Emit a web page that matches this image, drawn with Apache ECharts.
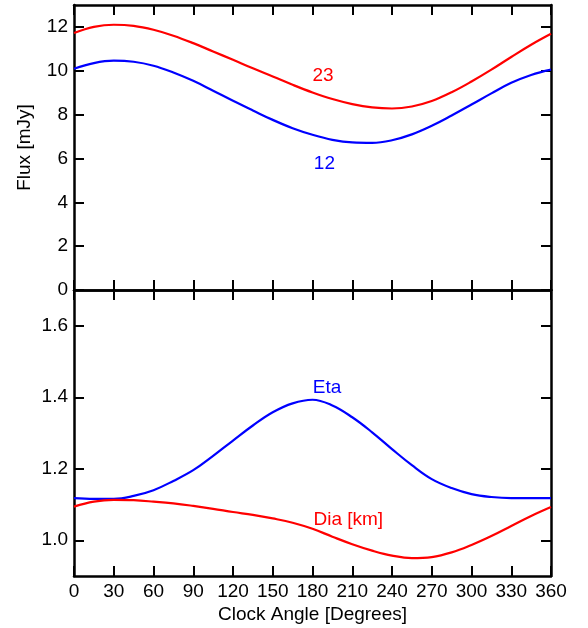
<!DOCTYPE html>
<html>
<head>
<meta charset="utf-8">
<script src="https://cdn.jsdelivr.net/npm/echarts@6/dist/echarts.min.js"></script>
<style>
  html, body { margin: 0; padding: 0; background: #fff; }
  #main { width: 588px; height: 628px; }
</style>
</head>
<body>
<div id="main"></div>
<script>
// clock angle, degrees
var angles = [0, 15, 30, 45, 60, 75, 90, 105, 120, 135, 150, 165, 180,
  195, 210, 225, 240, 255, 270, 285, 300, 315, 330, 345, 360];

// top panel: flux [mJy]
var flux23 = [11.72, 12.00, 12.10, 12.05, 11.87, 11.60, 11.26, 10.88, 10.50, 10.11, 9.74, 9.36, 9.01,
  8.71, 8.48, 8.33, 8.28, 8.37, 8.62, 9.02, 9.51, 10.05, 10.63, 11.19, 11.69];
var flux12 = [10.09, 10.35, 10.46, 10.41, 10.23, 9.92, 9.54, 9.09, 8.63, 8.19, 7.76, 7.38, 7.08,
  6.85, 6.73, 6.71, 6.83, 7.10, 7.49, 7.96, 8.46, 8.97, 9.45, 9.81, 10.05];

// bottom panel
var eta = [1.118, 1.116, 1.116, 1.124, 1.140, 1.166, 1.196, 1.236, 1.279, 1.321, 1.358, 1.383, 1.393,
  1.377, 1.344, 1.302, 1.255, 1.210, 1.171, 1.146, 1.129, 1.121, 1.118, 1.118, 1.118];
var dia = [1.094, 1.108, 1.113, 1.112, 1.108, 1.103, 1.096, 1.088, 1.079, 1.071, 1.061, 1.049, 1.032,
  1.010, 0.989, 0.971, 0.957, 0.950, 0.953, 0.966, 0.987, 1.012, 1.040, 1.068, 1.093];

// tick labels
var fluxTicks = [0, 2, 4, 6, 8, 10, 12];
var ratioTicks = [1.0, 1.2, 1.4, 1.6];

var FONT = 'Liberation Sans, Arial, sans-serif';
var RED = '#ff0000', BLUE = '#0000ff';

function pairs(ys) {
  return angles.map(function (a, i) { return [a, ys[i]]; });
}

var line = { onZero: false, lineStyle: { color: '#000', width: 2.5 } };
var tickIn = { show: true, inside: true, length: 10, lineStyle: { color: '#000', width: 2 } };

function xAx(grid, pos, labels) {
  return {
    type: 'value', gridIndex: grid, position: pos, min: 0, max: 360, interval: 30,
    axisLine: line, axisTick: tickIn, splitLine: { show: false },
    axisLabel: { show: labels, color: '#000', fontSize: 19, fontFamily: FONT, margin: 6 },
    name: labels ? 'Clock Angle [Degrees]' : '', nameLocation: 'middle', nameGap: 29,
    nameTextStyle: { color: '#000', fontSize: 19, fontFamily: FONT }
  };
}

function yAx(grid, pos, min, max, ticks, labels, name, fmt) {
  return {
    type: 'value', gridIndex: grid, position: pos, min: min, max: max,
    axisLine: line, axisTick: Object.assign({ customValues: ticks }, tickIn), splitLine: { show: false },
    axisLabel: { show: labels, customValues: ticks, color: '#000', fontSize: 19, fontFamily: FONT, margin: 6, formatter: fmt },
    name: name, nameLocation: 'middle', nameGap: 40,
    nameTextStyle: { color: '#000', fontSize: 19, fontFamily: FONT }
  };
}

function tag(text, color, x, y) {
  return {
    symbol: 'circle', symbolSize: 0, silent: true,
    data: [{ coord: [x, y] }],
    label: { show: true, formatter: text, color: color, fontSize: 19, fontFamily: FONT, position: 'inside' }
  };
}

function curve(ys, color, xi, yi, mark) {
  return {
    type: 'line', xAxisIndex: xi, yAxisIndex: yi, data: pairs(ys),
    smooth: 0.4, showSymbol: false, animation: false,
    lineStyle: { color: color, width: 2.2 },
    markPoint: mark
  };
}

var chart = echarts.init(document.getElementById('main'), null, { renderer: 'canvas' });

chart.setOption({
  backgroundColor: '#fff',
  animation: false,
  grid: [
    { left: 74, top: 5, width: 477, height: 285 },
    { left: 74, top: 290, width: 477, height: 286 }
  ],
  xAxis: [
    xAx(0, 'bottom', false),
    xAx(0, 'top', false),
    xAx(1, 'bottom', true),
    xAx(1, 'top', false)
  ],
  yAxis: [
    yAx(0, 'left', 0, 13, fluxTicks, true, 'Flux [mJy]', function (v) { return v; }),
    yAx(0, 'right', 0, 13, fluxTicks, false, ''),
    yAx(1, 'left', 0.9, 1.7, ratioTicks, true, '', function (v) { return v.toFixed(1); }),
    yAx(1, 'right', 0.9, 1.7, ratioTicks, false, '')
  ],
  series: [
    curve(flux23, RED, 0, 0, tag('23', RED, 188, 9.77)),
    curve(flux12, BLUE, 0, 0, tag('12', BLUE, 189, 5.78)),
    curve(eta, BLUE, 2, 2, tag('Eta', BLUE, 191, 1.427)),
    curve(dia, RED, 2, 2, tag('Dia [km]', RED, 207, 1.057))
  ]
});
</script>
</body>
</html>
